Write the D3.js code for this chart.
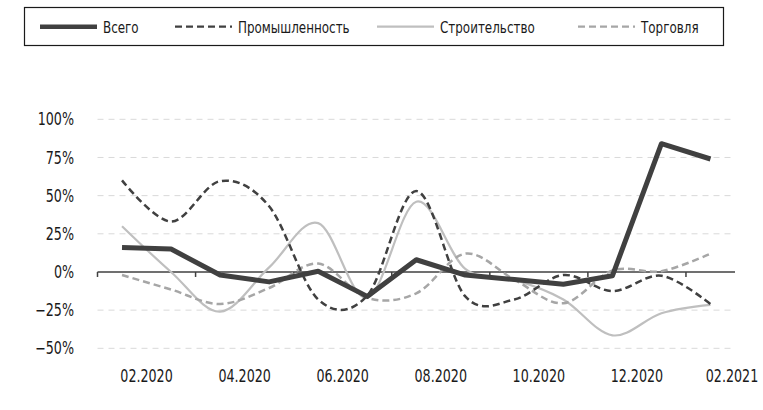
<!DOCTYPE html>
<html>
<head>
<meta charset="utf-8">
<script src="https://cdn.jsdelivr.net/npm/d3@7/dist/d3.min.js"></script>
<style>
  html, body { margin: 0; padding: 0; background: #fff; }
  svg { display: block; }
  text { font-family: "DejaVu Sans Condensed", "DejaVu Sans", sans-serif; font-stretch: condensed; fill: #1a1a1a; }
</style>
</head>
<body>
<svg id="chart" width="763" height="410"></svg>
<script>
// monthly points, 01.2020 .. 01.2021
const months = ['01.2020', '02.2020', '03.2020', '04.2020', '05.2020', '06.2020', '07.2020',
  '08.2020', '09.2020', '10.2020', '11.2020', '12.2020', '01.2021'];

// values in %
const total        = [16, 15, -2, -6.5, 0.5, -16, 8, -2, -5, -8, -2.5, 84, 74];
const industry     = [60, 33, 59.5, 43, -18, -15.5, 53, -16, -18, -2, -12.5, -2.5, -21];
const construction = [30, 0, -26, 3, 32, -17, 46, 2, -5, -18, -41.5, -27, -21.5];
const trade        = [-2, -11.5, -21, -10.5, 5.5, -17, -14, 12, -5, -20.5, 1, 0.5, 12];

// axis labels
const yTicks = [100, 75, 50, 25, 0, -25, -50];
const xTickLabels = ['02.2020', '04.2020', '06.2020', '08.2020', '10.2020', '12.2020', '02.2021'];

const series = [
  { name: 'Всего', values: total, color: '#404040', width: 5, dash: null, smooth: false },
  { name: 'Промышленность', values: industry, color: '#404040', width: 2.5, dash: '7,4', smooth: true },
  { name: 'Строительство', values: construction, color: '#bfbfbf', width: 2.2, dash: null, smooth: true },
  { name: 'Торговля', values: trade, color: '#a6a6a6', width: 2.5, dash: '7,4', smooth: true },
];

const svg = d3.select('#chart');
const SQUEEZE = 0.83;   // the reference uses a narrow face; squeeze DejaVu Condensed to match

const x = d3.scaleLinear().domain([-0.5, months.length - 0.5]).range([97.5, 735]);
const y = d3.scaleLinear().domain([-50, 100]).range([348.3, 119.3]);

// ── gridlines
svg.append('g').selectAll('line').data(yTicks.filter((d) => d !== 0))
  .enter().append('line')
  .attr('x1', x.range()[0]).attr('x2', x.range()[1])
  .attr('y1', (d) => y(d)).attr('y2', (d) => y(d))
  .attr('stroke', '#d9d9d9').attr('stroke-width', 1).attr('stroke-dasharray', '6,5');

// ── y labels
svg.append('g').selectAll('text').data(yTicks)
  .enter().append('text')
  .attr('transform', (d) => `translate(74,${y(d)}) scale(${SQUEEZE},1)`)
  .attr('dy', '0.36em')
  .attr('text-anchor', 'end').attr('font-size', 17)
  .text((d) => d3.format('d')(d) + '%');

// ── zero axis with tick marks every two months
const axisG = svg.append('g');
axisG.append('line')
  .attr('x1', x.range()[0]).attr('x2', x.range()[1])
  .attr('y1', y(0)).attr('y2', y(0))
  .attr('stroke', '#404040').attr('stroke-width', 1.5);
const tickPos = d3.range(-0.5, months.length - 1, 2);
axisG.selectAll('.tick').data(tickPos)
  .enter().append('line')
  .attr('x1', (d) => x(d)).attr('x2', (d) => x(d))
  .attr('y1', y(0)).attr('y2', y(0) + 5)
  .attr('stroke', '#404040').attr('stroke-width', 1.5);

// x labels sit between the ticks
svg.append('g').selectAll('text').data(xTickLabels)
  .enter().append('text')
  .attr('transform', (d, i) => `translate(${Math.min(x(0.5 + 2 * i), 732)},382) scale(${SQUEEZE},1)`)
  .attr('text-anchor', 'middle').attr('font-size', 17)
  .text((d) => d);

// ── series (draw order: light ones first, total on top)
const drawOrder = [series[2], series[3], series[1], series[0]];
drawOrder.forEach((s) => {
  const line = d3.line()
    .x((d, i) => x(i))
    .y((d) => y(d))
    .curve(s.smooth ? d3.curveCardinal.tension(0) : d3.curveLinear);
  svg.append('path')
    .datum(s.values)
    .attr('d', line)
    .attr('fill', 'none')
    .attr('stroke', s.color)
    .attr('stroke-width', s.width)
    .attr('stroke-dasharray', s.dash)
    .attr('stroke-linejoin', 'round');
});

// ── legend
const legend = svg.append('g');
legend.append('rect')
  .attr('x', 24.5).attr('y', 7.5).attr('width', 699).attr('height', 38)
  .attr('fill', '#fff').attr('stroke', '#1a1a1a').attr('stroke-width', 1.2);
const legendX = [40, 175, 377, 578];
series.forEach((s, i) => {
  const lx = legendX[i];
  legend.append('line')
    .attr('x1', lx).attr('x2', lx + 57)
    .attr('y1', 26.7).attr('y2', 26.7)
    .attr('stroke', s.color)
    .attr('stroke-width', s.name === 'Всего' ? 4.5 : 2.2)
    .attr('stroke-dasharray', s.dash);
  legend.append('text')
    .attr('transform', `translate(${lx + 63},32.5) scale(${SQUEEZE},1)`)
    .attr('font-size', 16)
    .text(s.name);
});
</script>
</body>
</html>
